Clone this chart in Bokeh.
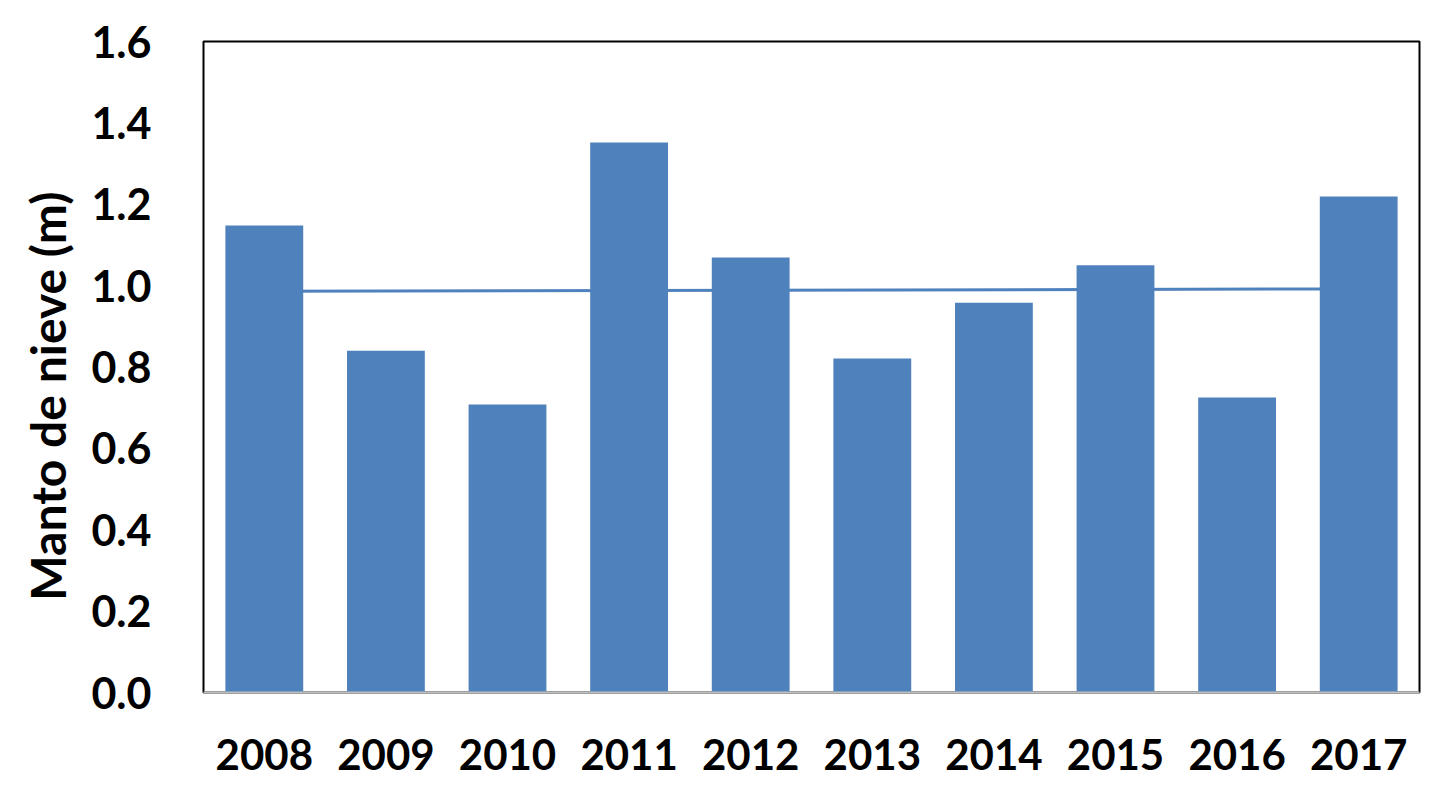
from bokeh.plotting import figure
from bokeh.embed import file_html
from bokeh.resources import INLINE
from bokeh.models import FixedTicker, PrintfTickFormatter

years = ["2008", "2009", "2010", "2011", "2012", "2013", "2014", "2015", "2016", "2017"]
snow = [1.148, 0.840, 0.708, 1.352, 1.069, 0.821, 0.958, 1.050, 0.725, 1.219]
trend_years = ["2008", "2017"]
trend_vals = [0.986, 0.992]
y_ticks = [0.0, 0.2, 0.4, 0.6, 0.8, 1.0, 1.2, 1.4, 1.6]
y_title = "Manto de nieve (m)"

FONT = "Lato"
BLUE = "#4F81BD"

p = figure(x_range=years, y_range=(0, 1.6), width=1435, height=791,
           output_backend="svg", toolbar_location=None,
           min_border_left=203, min_border_right=16, min_border_top=41, min_border_bottom=99)
p.x_range.range_padding = 0

p.line(x=trend_years, y=trend_vals, line_color=BLUE, line_width=3)
p.vbar(x=years, top=snow, width=0.64, fill_color=BLUE, line_color=None)

p.xgrid.grid_line_color = None
p.ygrid.grid_line_color = None
p.outline_line_color = "black"
p.outline_line_width = 2

p.yaxis.ticker = FixedTicker(ticks=y_ticks)
p.yaxis.formatter = PrintfTickFormatter(format="%.1f")
p.yaxis.axis_line_color = None
p.yaxis.major_tick_line_color = None
p.yaxis.minor_tick_line_color = None
p.yaxis.major_label_standoff = 46
p.yaxis.major_label_text_font = FONT
p.yaxis.major_label_text_font_style = "bold"
p.yaxis.major_label_text_font_size = "43px"
p.yaxis.major_label_text_color = "black"
# trailing non-breaking spaces shift the title slightly below the frame centre, as in the original
p.yaxis.axis_label = y_title + "\u00a0" * 5
p.yaxis.axis_label_standoff = 12
p.yaxis.axis_label_text_font = FONT
p.yaxis.axis_label_text_font_style = "bold"
p.yaxis.axis_label_text_font_size = "48px"
p.yaxis.axis_label_text_color = "black"

p.xaxis.axis_line_color = "#BFBFBF"
p.xaxis.axis_line_width = 2
p.xaxis.major_tick_line_color = None
p.xaxis.minor_tick_line_color = None
p.xaxis.major_label_standoff = 40
p.xaxis.major_label_text_font = FONT
p.xaxis.major_label_text_font_style = "bold"
p.xaxis.major_label_text_font_size = "42px"
p.xaxis.major_label_text_color = "black"

open("out.html", "w").write(file_html(p, INLINE))
